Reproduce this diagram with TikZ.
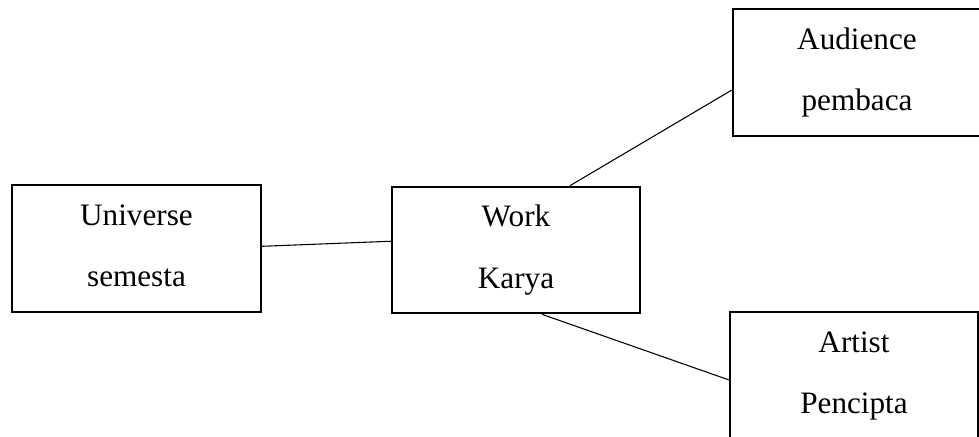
\documentclass[tikz,border=0pt]{standalone}
\usepackage{fontspec}
\setmainfont{Liberation Serif}
\usetikzlibrary{positioning}
\newcommand{\twoln}[2]{\rule{0pt}{8.6pt}#1\\#2\rule[-3pt]{0pt}{3pt}}
\tikzset{
  box/.style ={draw=black, line width=.75pt, fill=white, align=center, inner sep=0pt,
               minimum width=93.2pt, minimum height=47.5pt,
               font=\fontsize{11.7}{23.1}\selectfont},
  ln/.style  ={draw=black, line width=.4pt},
}
\begin{document}
\begin{tikzpicture}[x=.375pt,y=-.375pt]
    \useasboundingbox (0,0) rectangle (979,437);
    \clip (0,0) rectangle (979,437);

    \node[box] (uni) at (136.5,248.5) {\twoln{Universe}{semesta}};
    \node[box] (work) at (516,250) {\twoln{Work}{Karya}};
    \node[box] (aud) at (857,72.5) {\twoln{Audience}{pembaca}};
    \node[box] (art) at (854,375.5) {\twoln{Artist}{Pencipta}};

    \draw[ln] (uni.1.2) -- (work.176.8);
    \draw[ln] (work.50.5) -- (aud.188.9);
    \draw[ln] (work.292.4) -- (art.182.1);
  \end{tikzpicture}
\end{document}
